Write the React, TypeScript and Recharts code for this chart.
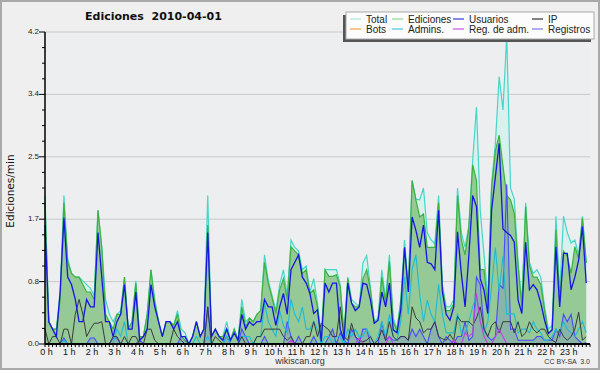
import React from "react";
import { ComposedChart, Area, Line, XAxis, YAxis, CartesianGrid } from "recharts";

// 10-minute buckets, values in edits per minute
const hourLabels = [
    "0 h", "1 h", "2 h", "3 h", "4 h", "5 h", "6 h", "7 h", "8 h", "9 h", "10 h", "11 h",
    "12 h", "13 h", "14 h", "15 h", "16 h", "17 h", "18 h", "19 h", "20 h", "21 h", "22 h", "23 h",
];

const yTicks = [
    0, 0.21, 0.42, 0.63, 0.84, 1.05, 1.26, 1.47, 1.68, 1.89, 2.1,
    2.31, 2.52, 2.73, 2.94, 3.15, 3.36, 3.57, 3.78, 3.99, 4.2,
];
const yLabels: Record<string, string> = {
    "0": "0.0", "0.84": "0.8", "1.68": "1.7", "2.52": "2.5", "3.36": "3.4", "4.2": "4.2",
};
const gridValues = [0.84, 1.68, 2.52, 3.36, 4.2];

const total = [
    2.0, 0.3, 0.2, 0.2, 0.7, 2.0,
    1.15, 0.95, 0.9, 0.9, 0.85, 0.8,
    0.75, 0.65, 1.8, 1.3, 0.6, 0.4,
    0.3, 0.4, 0.45, 0.9, 0.2, 0.3,
    0.85, 0.1, 0.1, 0.4, 1.0, 0.6,
    0.3, 0.1, 0.3, 0.3, 0.25, 0.45,
    0.2, 0.15, 0, 0.1, 0.3, 0.1,
    0.2, 2.0, 0.1, 0.2, 0.1, 0.1,
    0.3, 0.05, 0.2, 0.05, 0.6, 0.3,
    0.35, 0.3, 0.4, 0.45, 1.2, 0.85,
    0.65, 0.45, 0.8, 1.0, 0.65, 1.4,
    1.3, 1.25, 1.0, 1.05, 0.7, 0.88,
    0.55, 0.1, 1.0, 1.0, 1.0, 1.0,
    0.8, 0.15, 0.9, 0.6, 0.55, 0.5,
    1.09, 1.19, 0.75, 0.3, 0.35, 1.0,
    0.6, 1.2, 0.35, 0.2, 0.6, 1.4,
    0.75, 2.2, 1.95, 1.94, 2.1, 1.5,
    1.4, 1.35, 2.0, 0.8, 0.5, 0.5,
    0.6, 2.1, 1.5, 1.3, 1.6, 2.47,
    3.19, 1.8, 1.2, 0.6, 2.15, 2.7,
    3.6, 3.15, 4.15, 2.1, 1.95, 1.1,
    0.55, 1.9, 1.1, 0.95, 1.0, 0.9,
    0.5, 0.2, 0.25, 1.72, 0.7, 1.72,
    1.5, 1.36, 1.4, 1.2, 1.72, 1.1,
];

const ediciones = [
    1.9, 0.3, 0.2, 0.2, 0.6, 1.9,
    1.1, 0.95, 0.9, 0.9, 0.8, 0.7,
    0.7, 0.6, 1.8, 1.3, 0.4, 0.3,
    0.2, 0.4, 0.4, 0.9, 0.2, 0.3,
    0.82, 0.1, 0.1, 0.4, 1.0, 0.55,
    0.3, 0.1, 0.3, 0.3, 0.25, 0.4,
    0.1, 0.05, 0, 0.1, 0.3, 0.1,
    0.2, 1.6, 0.1, 0.2, 0.1, 0.1,
    0.2, 0.05, 0.2, 0.05, 0.5, 0.23,
    0.35, 0.3, 0.4, 0.45, 1.1, 0.82,
    0.62, 0.41, 0.73, 0.88, 0.6, 1.31,
    1.25, 1.2, 0.95, 1.0, 0.68, 0.73,
    0.5, 0.05, 1.0, 0.91, 0.91, 0.93,
    0.77, 0.1, 0.88, 0.55, 0.5, 0.5,
    0.88, 1.0, 0.73, 0.28, 0.32, 0.9,
    0.55, 1.11, 0.3, 0.18, 0.55, 1.3,
    0.72, 2.2, 1.94, 1.71, 1.75, 1.3,
    1.3, 1.3, 1.9, 0.77, 0.45, 0.45,
    0.54, 2.0, 1.4, 1.2, 1.57, 2.41,
    2.2, 1.0, 1.0, 0.5, 2.1, 2.6,
    2.81, 2.4, 2.0, 1.94, 1.76, 1.04,
    0.5, 1.85, 1.05, 0.9, 0.9, 0.8,
    0.45, 0.15, 0.2, 1.54, 0.6, 1.25,
    1.18, 0.95, 1.31, 1.15, 1.7, 1.09,
];

const usuarios = [
    1.6, 0.3, 0.2, 0.1, 0.7, 1.7,
    0.9, 0.8, 0.6, 0.3, 0.3, 0.6,
    0.5, 0.5, 1.5, 0.9, 0.3, 0.3,
    0.1, 0.3, 0.4, 0.8, 0.2, 0.2,
    0.7, 0.05, 0.1, 0.2, 0.8, 0.5,
    0.3, 0.1, 0.3, 0.3, 0.2, 0.3,
    0.1, 0.1, 0, 0.1, 0.3, 0.1,
    0.2, 1.5, 0.1, 0.2, 0.1, 0.05,
    0.2, 0.05, 0.15, 0.05, 0.4, 0.2,
    0.3, 0.25, 0.3, 0.3, 0.6, 0.5,
    0.5, 0.25, 0.5, 0.68, 0.4, 1.0,
    1.1, 1.2, 0.9, 0.82, 0.68, 0.41,
    0.46, 0.03, 0.82, 0.7, 0.82, 0.82,
    0.2, 0.05, 0.82, 0.55, 0.45, 0.5,
    0.82, 0.8, 0.59, 0.28, 0.32, 0.7,
    0.5, 0.82, 0.19, 0.15, 0.46, 1.3,
    0.7, 1.71, 1.53, 1.3, 1.6, 1.1,
    1.08, 1.0, 1.8, 0.7, 0.4, 0.32,
    0.5, 1.51, 0.95, 0.5, 1.2, 2.0,
    1.85, 0.88, 0.72, 0.41, 1.8, 2.25,
    2.7, 1.55, 1.5, 1.46, 1.37, 0.59,
    0.41, 1.37, 0.73, 0.8, 0.73, 0.55,
    0.32, 0.14, 0.19, 1.31, 0.5, 1.22,
    1.22, 0.73, 0.9, 1.13, 1.58, 0.82,
];

const ip = [
    0.2, 0, 0.1, 0.1, 0, 0.2,
    0.2, 0, 0.4, 0.6, 0.4, 0.1,
    0.2, 0.28, 0.28, 0.3, 0, 0,
    0.1, 0.1, 0, 0.1, 0, 0.1,
    0.1, 0, 0, 0.2, 0.2, 0.05,
    0, 0, 0, 0, 0.2, 0.1,
    0.05, 0, 0, 0, 0, 0,
    0, 0.5, 0, 0.1, 0.05, 0,
    0, 0, 0, 0, 0.1, 0,
    0, 0, 0.1, 0.1, 0.2, 0.2,
    0.2, 0.2, 0.2, 0.1, 0.05, 0.1,
    0, 0, 0, 0.1, 0.1, 0.3,
    0.1, 0.28, 0.23, 0.19, 0.1, 0.1,
    0.5, 0.1, 0.05, 0.28, 0.1, 0.05,
    0.03, 0.05, 0.1, 0, 0.05, 0.19,
    0.05, 0.3, 0.1, 0.05, 0.1, 0.1,
    0.05, 0.5, 0.35, 0.3, 0.15, 0.2,
    0.2, 0.3, 0.1, 0.07, 0.05, 0.13,
    0.05, 0.37, 0.3, 0.3, 0.3, 0.25,
    0.35, 0.5, 0.2, 0.1, 0.25, 0.3,
    0.15, 0.3, 0.3, 0.3, 0.15, 0.3,
    0.1, 0.15, 0.3, 0.2, 0.15, 0.2,
    0.2, 0.1, 0.05, 0.02, 0.2, 0.1,
    0.05, 0.1, 0.2, 0.43, 0.05, 0.1,
];

const bots = [
    0, 0, 0, 0, 0, 0, 0, 0, 0, 0, 0, 0, 0, 0, 0, 0, 0, 0, 0, 0, 0, 0, 0, 0,
    0, 0, 0, 0, 0, 0, 0, 0, 0, 0, 0, 0, 0, 0, 0, 0, 0, 0, 0, 0, 0, 0, 0, 0,
    0, 0, 0, 0, 0, 0, 0, 0, 0, 0, 0, 0, 0, 0, 0, 0, 0, 0, 0, 0, 0, 0, 0, 0,
    0, 0, 0, 0, 0, 0, 0, 0, 0, 0, 0, 0, 0, 0, 0, 0, 0, 0, 0, 0, 0, 0, 0, 0,
    0, 0, 0, 0, 0, 0, 0, 0, 0, 0, 0, 0, 0, 0, 0, 0, 0, 0, 0, 0, 0, 0, 0, 0,
    0, 0, 0, 0, 0, 0, 0, 0, 0, 0, 0, 0, 0, 0, 0, 0, 0, 0, 0, 0, 0, 0, 0, 0,
];

const admins = [
    0, 0, 0, 0, 0, 0.05,
    0, 0, 0, 0, 0, 0,
    0, 0, 0, 0, 0, 0,
    0, 0.2, 0.1, 0.3, 0, 0,
    0, 0, 0, 0, 0, 0,
    0, 0, 0, 0, 0, 0,
    0, 0, 0, 0, 0.1, 0,
    0, 0.1, 0, 0, 0, 0,
    0.1, 0, 0, 0, 0.1, 0.1,
    0.1, 0, 0.1, 0.1, 0.55, 0.3,
    0.2, 0.1, 0.45, 0.25, 0.15, 0.6,
    0.4, 0.3, 0.5, 0.2, 0.2, 0.3,
    0.2, 0, 0.1, 0.1, 0, 0.1,
    0.1, 0, 0.2, 0.1, 0.2, 0.1,
    0.1, 0.2, 0.1, 0, 0.1, 0.3,
    0.1, 0.4, 0.1, 0.05, 0.3, 0.9,
    0.4, 1.0, 1.2, 0.67, 0.3, 0.59,
    0.4, 0.3, 0.8, 0.4, 0.15, 0.15,
    0.15, 0.41, 0.15, 0.15, 0.3, 0.5,
    0.65, 0.3, 0.15, 0.3, 0.77, 1.3,
    0.7, 1.18, 0.4, 0.41, 0.4, 0.15,
    0.2, 0.2, 0.15, 0.3, 0.2, 0.15,
    0.05, 0.05, 0.1, 0.2, 0.15, 0.3,
    0.2, 0.15, 0.1, 0.2, 0.3, 0.15,
];

const regAdm = [
    0, 0, 0, 0, 0, 0, 0, 0, 0, 0, 0, 0,
    0, 0, 0, 0, 0, 0, 0, 0, 0, 0, 0, 0,
    0, 0, 0, 0, 0, 0, 0, 0, 0, 0, 0, 0,
    0, 0, 0, 0, 0, 0, 0, 0, 0, 0, 0, 0,
    0, 0, 0, 0, 0, 0, 0, 0, 0, 0, 0, 0,
    0, 0, 0, 0, 0, 0.05, 0, 0, 0, 0, 0, 0,
    0, 0, 0, 0, 0, 0, 0, 0, 0, 0, 0, 0.08,
    0, 0, 0, 0, 0, 0, 0, 0.1, 0, 0, 0, 0,
    0, 0, 0, 0, 0, 0, 0, 0, 0, 0, 0, 0,
    0.05, 0, 0, 0.15, 0.1, 0.15, 0.68, 0.3, 0.1, 0, 0, 0.1,
    0.2, 0.1, 0, 0, 0, 0, 0, 0, 0, 0, 0, 0,
    0, 0, 0, 0, 0, 0, 0, 0, 0, 0, 0, 0,
];

const registros = [
    0, 0, 0, 0, 0, 0.08,
    0, 0, 0, 0, 0, 0,
    0.08, 0.08, 0, 0, 0, 0,
    0.08, 0.08, 0, 0, 0, 0,
    0, 0.05, 0, 0, 0, 0,
    0, 0, 0, 0, 0, 0,
    0.1, 0.1, 0, 0, 0, 0,
    0, 0.5, 0, 0, 0, 0,
    0.1, 0, 0, 0, 0.2, 0.1,
    0, 0, 0, 0, 0.1, 0,
    0, 0, 0, 0, 0.3, 0.1,
    0, 0.1, 0, 0, 0, 0.1,
    0, 0, 0, 0.1, 0.2, 0,
    0.15, 0.05, 0, 0.2, 0.1, 0,
    0.2, 0.2, 0, 0, 0, 0.3,
    0.05, 0.1, 0.05, 0.05, 0.1, 0.1,
    0.05, 0.2, 0.1, 0.2, 0.1, 0,
    0.2, 0.3, 0.1, 0, 0.1, 0.05,
    0, 0.1, 0.1, 0.3, 0.05, 0.1,
    0.9, 0.8, 0.2, 0.1, 0.05, 0.1,
    0.8, 0.75, 2.15, 0.2, 0.2, 0.05,
    0.05, 0.05, 0.05, 0.05, 0.1, 0.1,
    0.05, 0.05, 0.05, 0.2, 0.1, 0.4,
    0.3, 0.4, 0.1, 0.05, 0, 0.02,
];

const xTicks = total.map((_, i) => i).concat([144]);

const data = total.map((v, i) => ({
    t: i,
    total: v,
    ediciones: ediciones[i],
    usuarios: usuarios[i],
    ip: ip[i],
    bots: bots[i],
    admins: admins[i],
    regAdm: regAdm[i],
    registros: registros[i],
}));

const SANS = "'Liberation Sans', Arial, sans-serif";
const VERA = "'DejaVu Sans', sans-serif";

const legendItems = [
    { label: "Total", color: "#a8e6dc", x: 350, row: 0 },
    { label: "Ediciones", color: "#8ed48e", x: 392, row: 0 },
    { label: "Usuarios", color: "#3a3ae0", x: 453, row: 0 },
    { label: "IP", color: "#333333", x: 532, row: 0 },
    { label: "Bots", color: "#f4a040", x: 350, row: 1 },
    { label: "Admins.", color: "#40c8dc", x: 392, row: 1 },
    { label: "Reg. de adm.", color: "#cc50e8", x: 453, row: 1 },
    { label: "Registros", color: "#7a7ae8", x: 532, row: 1 },
];

function XTick(props: any) {
    const { x, y, payload } = props;
    const v = payload.value as number;
    const hour = v % 6 === 0 && v < 144 ? hourLabels[v / 6] : null;
    return (
        <g>
            <line x1={x} y1={y} x2={x} y2={y + 3} stroke="#000" strokeWidth={1} />
            {hour && (
                <text x={x + 1.5} y={y + 11} textAnchor="middle" fontSize={9} fontFamily={SANS} fill="#111">
                    {hour}
                </text>
            )}
        </g>
    );
}

function YTick(props: any) {
    const { x, y, payload } = props;
    const label = yLabels[String(payload.value)];
    return (
        <g>
            <line x1={x - (label ? 6 : 3)} y1={y} x2={x} y2={y} stroke="#000" strokeWidth={1} />
            {label && (
                <text x={x - 6} y={y + 2} textAnchor="end" fontSize={8} fontFamily={SANS} fill="#222">
                    {label}
                </text>
            )}
        </g>
    );
}

export default function App() {
    return (
        <div style={{ position: "absolute", left: 0, top: 0, width: 600, height: 370, background: "#efeff0" }}>
            <ComposedChart
                width={600}
                height={370}
                data={data}
                margin={{ top: 32, right: 10, left: 0, bottom: 6 }}
            >
                <CartesianGrid horizontal vertical={false} horizontalValues={gridValues} stroke="#c9c9c9" fill="#edeef0" />
                <XAxis
                    dataKey="t"
                    type="number"
                    domain={[0, 144]}
                    ticks={xTicks}
                    interval={0}
                    tick={XTick}
                    tickLine={false}
                    tickSize={0}
                    tickMargin={0}
                    height={20}
                    axisLine={{ stroke: "#000", strokeWidth: 2 }}
                />
                <YAxis
                    type="number"
                    domain={[0, 4.2]}
                    ticks={yTicks}
                    interval={0}
                    tick={YTick}
                    tickLine={false}
                    tickSize={0}
                    tickMargin={0}
                    width={45}
                    axisLine={{ stroke: "#000", strokeWidth: 1.5 }}
                />
                <Area type="linear" dataKey="total" stroke="#45d6c8" strokeWidth={1.2} fill="#d8f1ec" fillOpacity={1} isAnimationActive={false} dot={false} activeDot={false} />
                <Area type="linear" dataKey="ediciones" stroke="#3cb23c" strokeWidth={1.2} fill="#95c995" fillOpacity={1} isAnimationActive={false} dot={false} activeDot={false} />
                <Area type="linear" dataKey="registros" stroke="#4a4aff" strokeWidth={1.1} fill="#5a5aff" fillOpacity={0.18} isAnimationActive={false} dot={false} activeDot={false} />
                <Line type="linear" dataKey="admins" stroke="#1cbcd6" strokeWidth={1.1} isAnimationActive={false} dot={false} activeDot={false} />
                <Line type="linear" dataKey="ip" stroke="#3a3a3a" strokeWidth={1} isAnimationActive={false} dot={false} activeDot={false} />
                <Line type="linear" dataKey="regAdm" stroke="#c040e0" strokeWidth={1.1} isAnimationActive={false} dot={false} activeDot={false} />
                <Line type="linear" dataKey="usuarios" stroke="#1616e4" strokeWidth={1.3} isAnimationActive={false} dot={false} activeDot={false} />
            </ComposedChart>
            <svg
                width={600}
                height={370}
                style={{ position: "absolute", left: 0, top: 0, pointerEvents: "none" }}
            >
                <rect x={1} y={1} width={598} height={368} fill="none" stroke="#a9a9a9" strokeWidth={2} />
                <text x={85} y={20} fontSize={11} fontWeight="bold" fontFamily={VERA} fill="#111" style={{ whiteSpace: "pre" }}>
                    {"Ediciones  2010-04-01"}
                </text>
                <text
                    x={14}
                    y={191}
                    transform="rotate(-90 14 191)"
                    textAnchor="middle"
                    fontSize={10.5}
                    fontFamily={VERA}
                    fill="#111"
                >
                    Ediciones/min
                </text>
                <rect x={343} y={15} width={248} height={27} fill="#555" />
                <rect x={346} y={12} width={248} height={27} fill="#fcfcfc" stroke="#aaa" strokeWidth={1} />
                {legendItems.map((it) => (
                    <g key={it.label}>
                        <line x1={it.x} y1={19 + it.row * 10} x2={it.x + 11} y2={19 + it.row * 10} stroke={it.color} strokeWidth={1.2} />
                        <text x={it.x + 16} y={22.5 + it.row * 10} fontSize={10} fontFamily={SANS} fill="#222">
                            {it.label}
                        </text>
                    </g>
                ))}
                <text x={300} y={364} textAnchor="middle" fontSize={9} fontFamily={SANS} fill="#333">
                    wikiscan.org
                </text>
                <text x={590} y={364} textAnchor="end" fontSize={7} fontFamily={SANS} fill="#333" style={{ whiteSpace: "pre" }}>
                    {"CC BY-SA  3.0"}
                </text>
            </svg>
        </div>
    );
}
